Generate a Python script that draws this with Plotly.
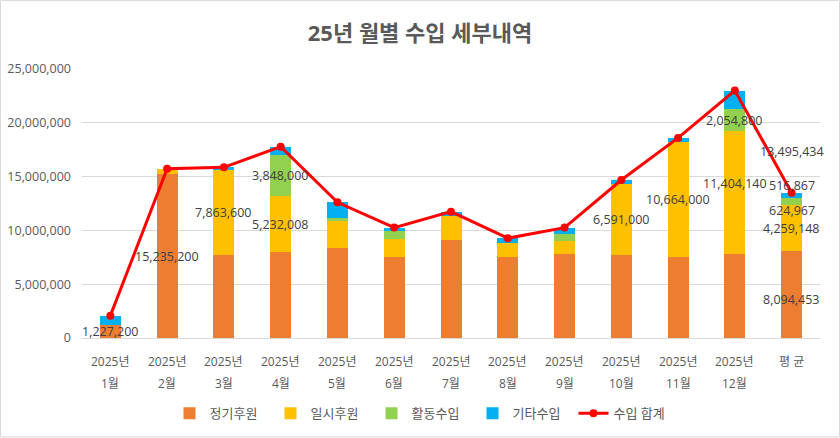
import plotly.graph_objects as go

categories = ["1월", "2월", "3월", "4월", "5월", "6월", "7월", "8월", "9월", "10월", "11월", "12월", "평 균"]
year_labels = ["2025년"] * 12 + ["평 균"]
month_labels = ["1월", "2월", "3월", "4월", "5월", "6월", "7월", "8월", "9월", "10월", "11월", "12월", ""]

regular = [1227200, 15235200, 7750000, 7950000, 8350000, 7570000, 9120000, 7570000, 7800000,
           7730000, 7520000, 7820000, 8094453]
one_time = [0, 500000, 7863600, 5232008, 2530000, 1640000, 2250000, 1300000, 1230000,
            6591000, 10664000, 11404140, 4259148]
activity = [0, 0, 0, 3848000, 300000, 740000, 0, 0, 620000, 0, 0, 2054800, 624967]
other = [850000, 0, 250000, 750000, 1430000, 310000, 370000, 410000, 610000, 360000,
         410000, 1720000, 516867]
totals = [2077200, 15735200, 15863600, 17780008, 12610000, 10260000, 11740000, 9280000,
          10260000, 14681000, 18594000, 22998940, 13495434]

series_names = ["정기후원", "일시후원", "활동수입", "기타수입"]
series_colors = ["#ED7D31", "#FFC000", "#92D050", "#00B0F0"]
series_values = [regular, one_time, activity, other]

# labelled segments: (category index, series index, pixel shift)
segment_labels = [(0, 0, 0), (1, 0, 0), (2, 1, 0), (3, 1, 0), (3, 2, 0),
                  (9, 1, 0), (10, 1, 0), (11, 1, 9), (11, 2, 0),
                  (12, 0, -5), (12, 1, -1), (12, 2, -9), (12, 3, 10)]
total_labels = [(12, 41)]

FONT = "Open Sans, Noto Sans CJK KR, sans-serif"

fig = go.Figure()
for name, color, vals in zip(series_names, series_colors, series_values):
    fig.add_trace(go.Bar(x=categories, y=vals, name=name, marker_color=color,
                         marker_line_width=0, width=0.37))

fig.add_trace(go.Scatter(x=categories, y=totals, name="수입 합계", mode="lines+markers",
                         line=dict(color="#FF0000", width=3),
                         marker=dict(color="#FF0000", size=8)))

annotations = []
for ci, si, shift in segment_labels:
    base = sum(series_values[k][ci] for k in range(si))
    mid = base + series_values[si][ci] / 2
    annotations.append(dict(x=categories[ci], y=mid, text=f"{series_values[si][ci]:,}",
                            showarrow=False, yshift=shift,
                            font=dict(family=FONT, size=12.5, color="#404040")))
for ci, shift in total_labels:
    annotations.append(dict(x=categories[ci], y=totals[ci], text=f"{totals[ci]:,}",
                            showarrow=False, yshift=shift,
                            font=dict(family=FONT, size=12.5, color="#404040")))

# two-line category labels under the axis
for cat, yl, ml_ in zip(categories, year_labels, month_labels):
    annotations.append(dict(x=cat, y=0, xref="x", yref="paper", text=yl, showarrow=False,
                            yanchor="middle", yshift=-23,
                            font=dict(family=FONT, size=12, color="#595959")))
    if ml_:
        annotations.append(dict(x=cat, y=0, xref="x", yref="paper", text=ml_, showarrow=False,
                                yanchor="middle", yshift=-45.5,
                                font=dict(family=FONT, size=12, color="#595959")))

ml, mr, mt, mb = 82, 20, 69, 99.5
pw = 840 - ml - mr
ph = 438 - mt - mb

fig.update_layout(
    width=840, height=438,
    margin=dict(l=ml, r=mr, t=mt, b=mb, autoexpand=False),
    barmode="stack",
    plot_bgcolor="white", paper_bgcolor="white",
    font=dict(family=FONT, color="#595959", size=11),
    title=dict(text="<b>25년 월별 수입 세부내역</b>", x=0.5, xanchor="center",
               y=1 - 33 / 438, yanchor="middle", yref="container",
               font=dict(family=FONT, size=22, color="#595959")),
    legend=dict(orientation="h", x=(422 - ml) / pw, xanchor="center", y=-(414 - 338.5) / ph,
                yanchor="middle", font=dict(size=13, color="#595959"),
                traceorder="normal", entrywidth=56, itemwidth=30),
    annotations=annotations,
    shapes=[dict(type="rect", xref="paper", yref="paper",
                 x0=-(ml - 0.5) / pw, x1=1 + (mr - 0.5) / pw,
                 y0=-(mb - 0.5) / ph, y1=1 + (mt - 0.5) / ph,
                 line=dict(color="#D9D9D9", width=1), layer="below")],
)
fig.update_yaxes(range=[0, 25000000], dtick=5000000, tickformat=",",
                 gridcolor="#D9D9D9", gridwidth=1, zeroline=False, automargin=False,
                 showline=False, ticks="", tickfont=dict(size=12.5, color="#595959"),
                 ticklabelstandoff=10)
fig.update_xaxes(type="category", range=[-0.5, len(categories) - 0.5],
                 showline=True, linecolor="#D9D9D9", ticks="",
                 showticklabels=False, automargin=False)

fig.write_html("out.html")
